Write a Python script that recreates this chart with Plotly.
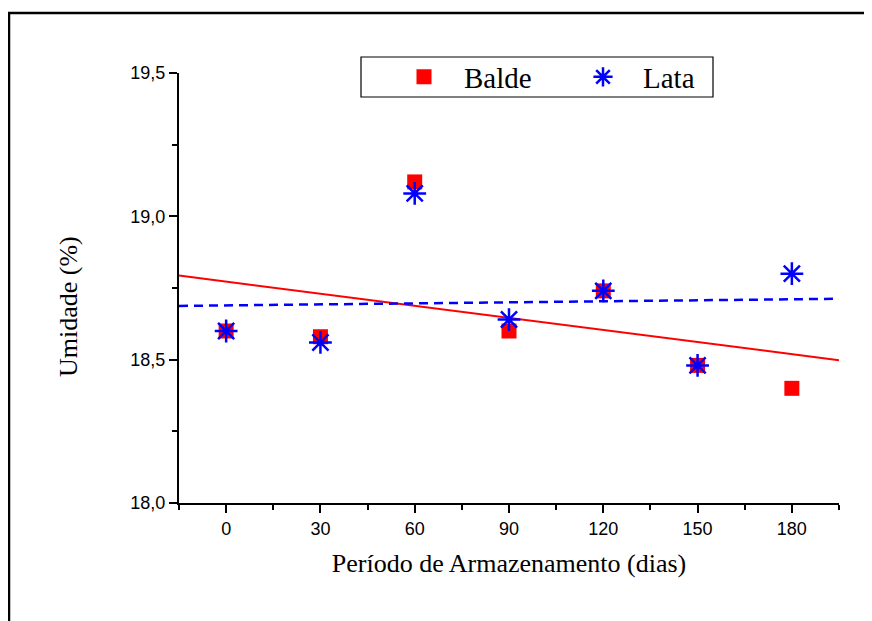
import numpy as np
import plotly.graph_objects as go

# Data
dias = [0, 30, 60, 90, 120, 150, 180]
balde = [18.60, 18.58, 19.12, 18.60, 18.74, 18.48, 18.40]
lata = [18.60, 18.56, 19.08, 18.64, 18.74, 18.48, 18.80]
x_range = [-15, 195]
y_range = [18.0, 19.5]

RED = "#FF0000"
BLUE = "#0000FF"

# linear fits
xf = np.array(x_range, dtype=float)
pb = np.polyfit(dias, balde, 1)
pl = np.polyfit(dias, lata, 1)

fig = go.Figure()
fig.add_trace(go.Scatter(x=xf, y=np.polyval(pb, xf), mode="lines",
                         line=dict(color=RED, width=2), showlegend=False, hoverinfo="skip"))
fig.add_trace(go.Scatter(x=xf, y=np.polyval(pl, xf), mode="lines",
                         line=dict(color=BLUE, width=2.5, dash="9px,6px"), showlegend=False, hoverinfo="skip"))
fig.add_trace(go.Scatter(x=dias, y=balde, mode="markers", name="Balde",
                         marker=dict(symbol="square", size=15, color=RED, line=dict(width=0))))
fig.add_trace(go.Scatter(x=dias, y=lata, mode="markers", name="Lata",
                         marker=dict(symbol="asterisk-open", size=19, color=BLUE,
                                     line=dict(color=BLUE, width=2.5))))

# page body offset of 8px is accounted for in margins
OFF = 8
W, H = 872, 621
L, T = 179 - OFF, 73 - OFF
R = W + OFF - 839
B = H + OFF - 503
pw, ph = W - L - R, H - T - B

def px_to_paper_x(px):
    return (px - OFF - L) / pw

def px_to_paper_y(py):
    return (H + OFF - B - py) / ph

tick_font = dict(family="Arial, Liberation Sans, sans-serif", size=18, color="black")
title_font = dict(family="Times New Roman, Liberation Serif, serif", size=26, color="black")

fig.update_layout(
    width=W, height=H,
    margin=dict(l=L, r=R, t=T, b=B, pad=0),
    paper_bgcolor="white", plot_bgcolor="white",
    separators=",.",
    showlegend=True,
    legend=dict(
        orientation="h",
        x=px_to_paper_x(384), y=px_to_paper_y(77),
        xanchor="left", yanchor="middle",
        bgcolor="rgba(0,0,0,0)", borderwidth=0,
        font=dict(family="Times New Roman, Liberation Serif, serif", size=29, color="black"),
        itemwidth=70,
        entrywidth=94, entrywidthmode="pixels",
        tracegroupgap=0,
    ),
    xaxis=dict(
        range=x_range, showgrid=False, zeroline=False,
        showline=True, linecolor="black", linewidth=2,
        ticks="outside", ticklen=8, tickwidth=2, tickcolor="black",
        tick0=0, dtick=30, tickfont=tick_font,
        minor=dict(ticks="outside", dtick=15, tick0=0, ticklen=5, tickwidth=2, tickcolor="black"),
        title=dict(text="Período de Armazenamento (dias)", font=title_font, standoff=16),
    ),
    yaxis=dict(
        range=y_range, showgrid=False, zeroline=False,
        showline=True, linecolor="black", linewidth=2,
        ticks="outside", ticklen=8, tickwidth=2, tickcolor="black",
        tick0=18.0, dtick=0.5, tickformat=".1f", tickfont=tick_font,
        minor=dict(ticks="outside", dtick=0.25, ticklen=5, tickwidth=2, tickcolor="black"),
    ),
    annotations=[
        dict(text="Umidade (%)", font=title_font, textangle=-90, showarrow=False,
             xref="paper", yref="paper",
             x=px_to_paper_x(68), y=px_to_paper_y(307),
             xanchor="center", yanchor="middle"),
    ],
    shapes=[
        dict(type="rect", xref="paper", yref="paper",
             x0=px_to_paper_x(9), x1=px_to_paper_x(W + 30),
             y0=px_to_paper_y(H + 30), y1=px_to_paper_y(13),
             line=dict(color="black", width=2.5), fillcolor="rgba(0,0,0,0)", layer="below"),
        dict(type="rect", xref="paper", yref="paper",
             x0=px_to_paper_x(361), x1=px_to_paper_x(713),
             y0=px_to_paper_y(97), y1=px_to_paper_y(57),
             line=dict(color="black", width=1.2), fillcolor="white", layer="below"),
    ],
)

fig.write_html("out.html")
